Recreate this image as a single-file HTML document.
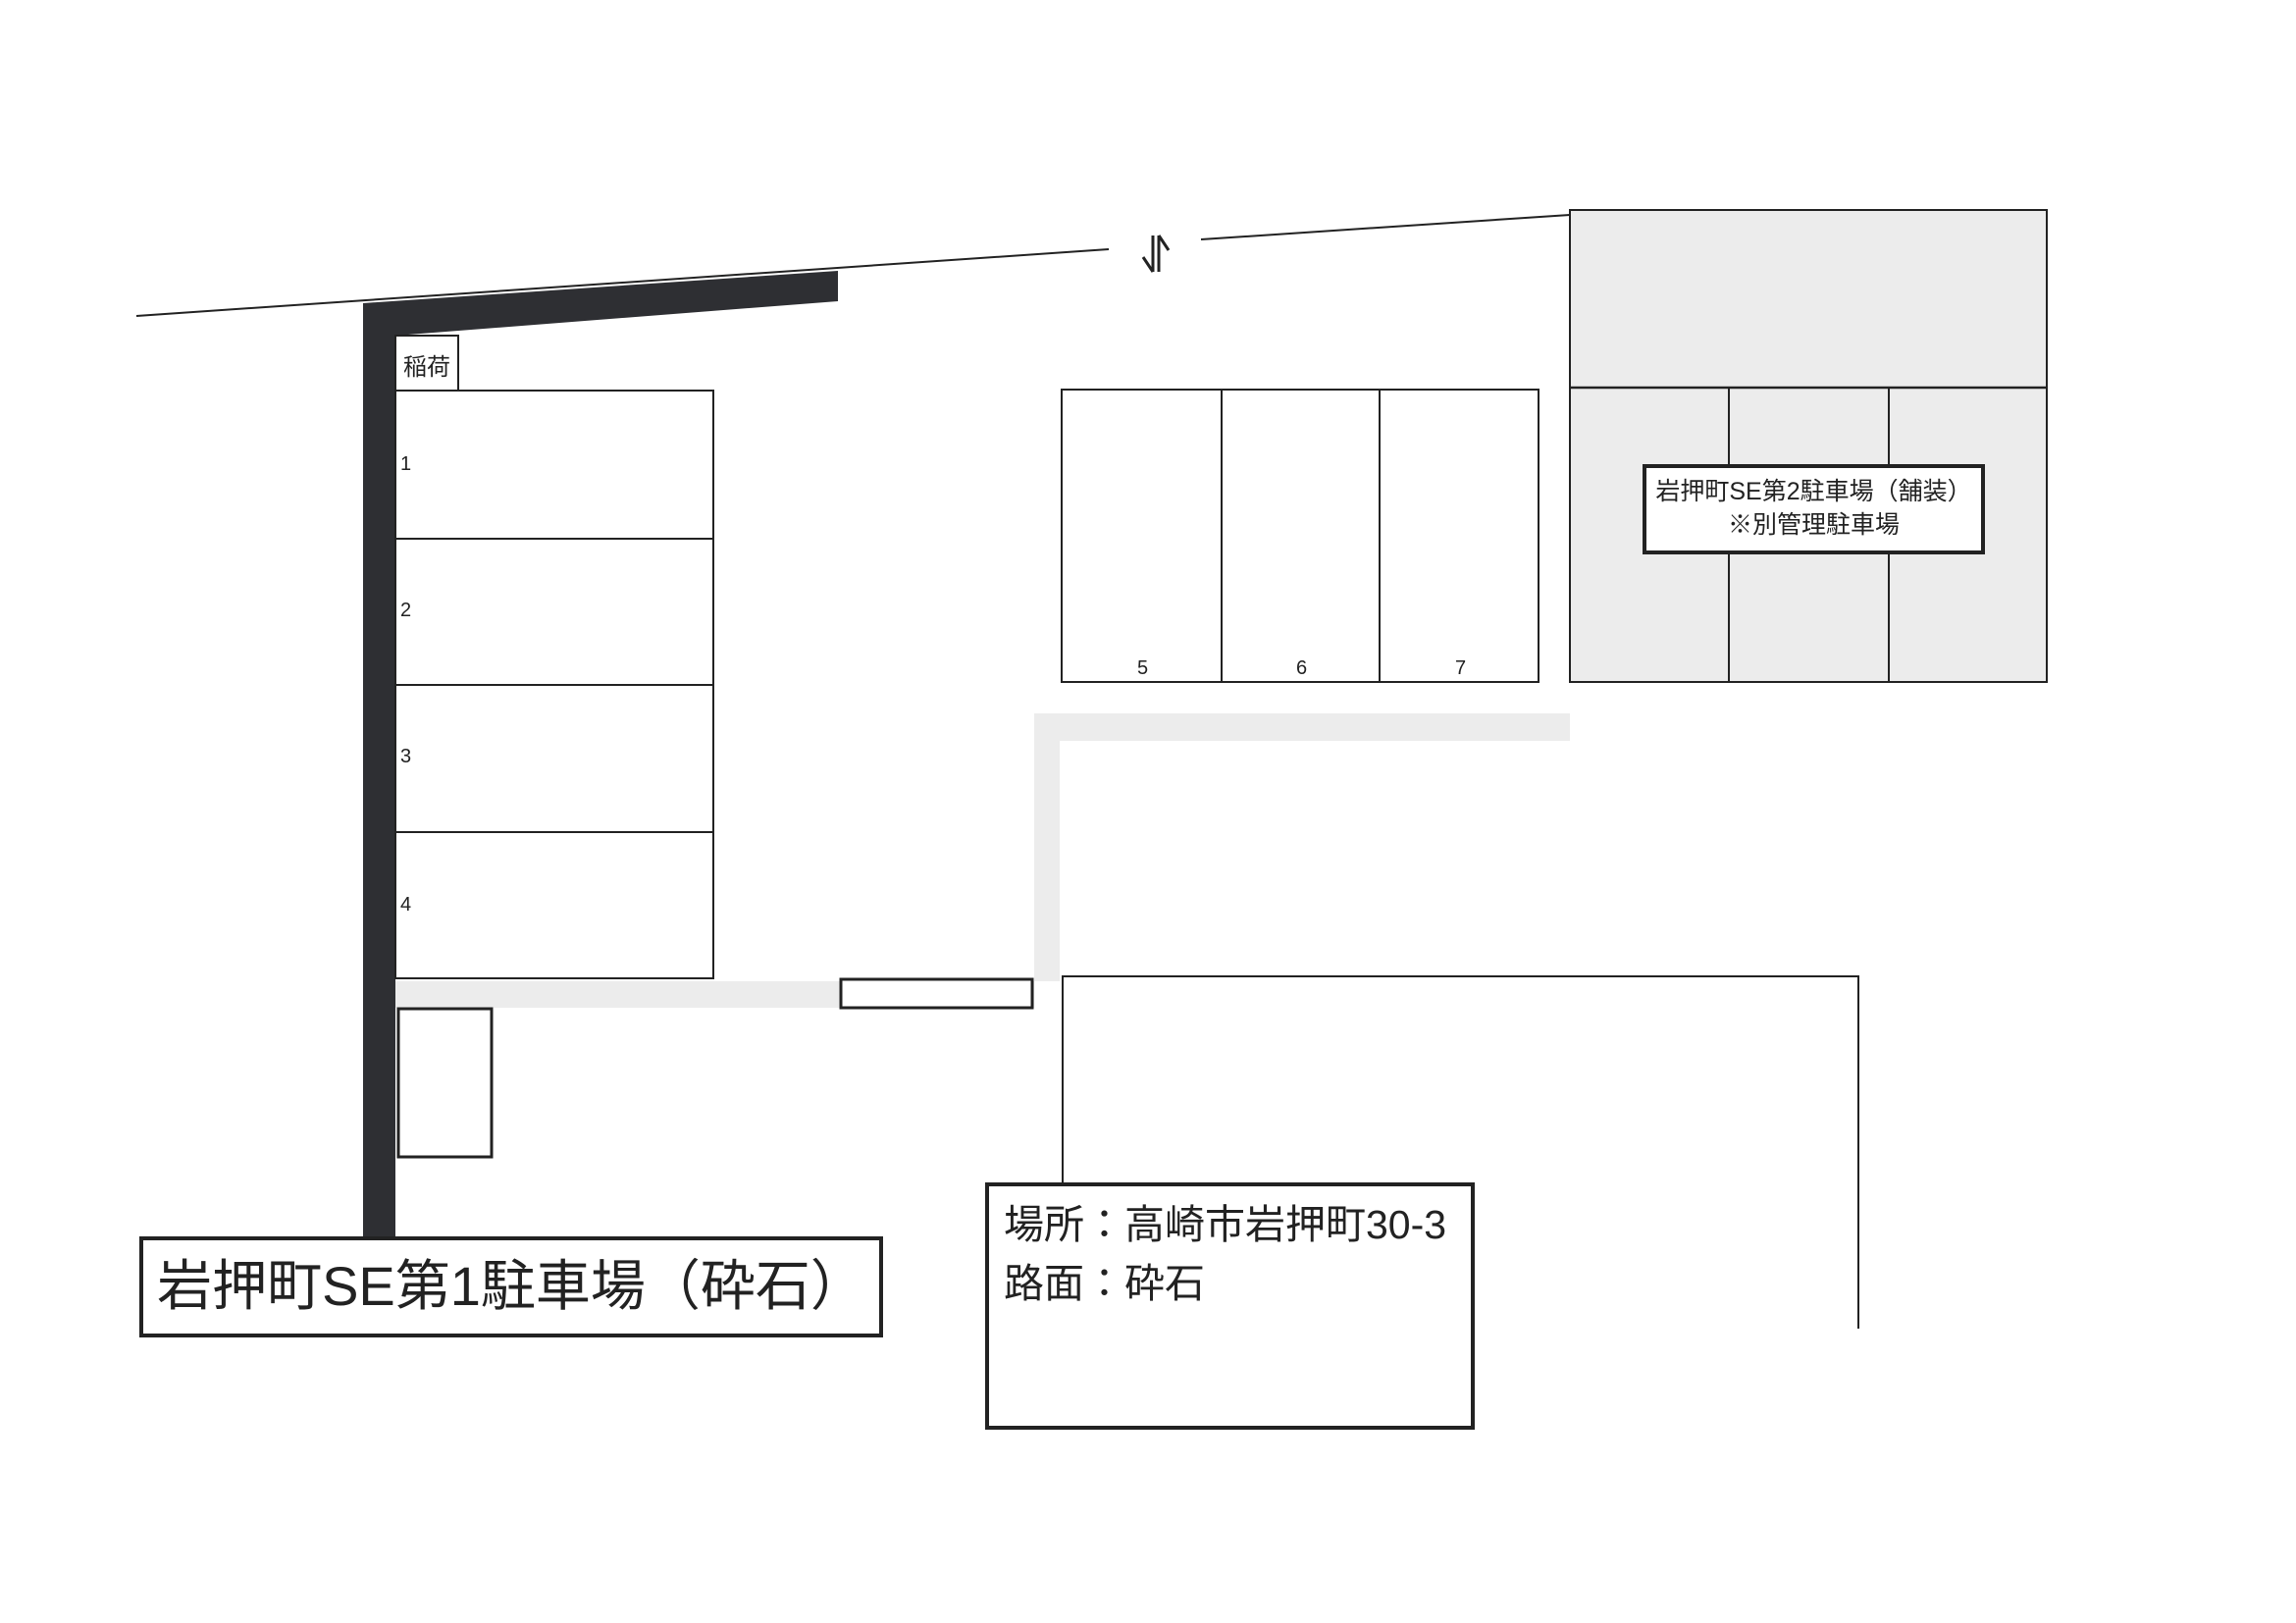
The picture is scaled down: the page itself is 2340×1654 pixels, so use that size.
<!DOCTYPE html>
<html><head><meta charset="utf-8"><style>
html,body{margin:0;padding:0;background:#fff;}
body{width:2340px;height:1654px;position:relative;overflow:hidden;font-family:"Liberation Sans","Noto Sans CJK JP",sans-serif;}
.a{position:absolute;box-sizing:border-box;}
.t{position:absolute;white-space:nowrap;color:#222;}
</style></head><body>
<svg class="a" style="left:0;top:0" width="2340" height="1654">
  <line x1="139" y1="322" x2="1130" y2="254" stroke="#222" stroke-width="2"/>
  <line x1="1224" y1="244" x2="1600" y2="219" stroke="#222" stroke-width="2"/>
  <!-- harpoons -->
  <g stroke="#222" stroke-width="3" fill="none">
    <line x1="1175" y1="240" x2="1175" y2="277"/>
    <line x1="1175" y1="277" x2="1165" y2="262"/>
    <line x1="1181" y1="240" x2="1181" y2="277"/>
    <line x1="1181" y1="240" x2="1191" y2="255"/>
  </g>
  <!-- gray paved area -->
  <rect x="1600" y="214" width="486" height="481" fill="#ececec" stroke="#222" stroke-width="2"/>
  <line x1="1600" y1="395" x2="2086" y2="395" stroke="#222" stroke-width="2.5"/>
  <line x1="1762" y1="395" x2="1762" y2="695" stroke="#222" stroke-width="2"/>
  <line x1="1925" y1="395" x2="1925" y2="695" stroke="#222" stroke-width="2"/>
  <!-- gray paths -->
  <rect x="403" y="1000" width="651" height="27" fill="#ececec"/>
  <rect x="1054" y="727" width="26" height="273" fill="#ececec"/>
  <rect x="1054" y="727" width="546" height="28" fill="#ececec"/>
  <!-- dark wall -->
  <polygon points="370,309 854,276 854,307 403,342 403,1262 370,1262" fill="#2e2f33"/>
  <!-- 稲荷 box -->
  <rect x="403" y="342" width="64" height="56" fill="#fff" stroke="#222" stroke-width="2"/>
  <!-- stalls 1-4 -->
  <rect x="403" y="398" width="324" height="599" fill="#fff" stroke="#222" stroke-width="2"/>
  <line x1="403" y1="549" x2="727" y2="549" stroke="#222" stroke-width="2"/>
  <line x1="403" y1="698" x2="727" y2="698" stroke="#222" stroke-width="2"/>
  <line x1="403" y1="848" x2="727" y2="848" stroke="#222" stroke-width="2"/>
  <!-- small boxes -->
  <rect x="857" y="998" width="195" height="29" fill="#fff" stroke="#222" stroke-width="3"/>
  <rect x="406" y="1028" width="95" height="151" fill="#fff" stroke="#222" stroke-width="3"/>
  <!-- stalls 5-7 -->
  <rect x="1082" y="397" width="486" height="298" fill="#fff" stroke="#222" stroke-width="2"/>
  <line x1="1245" y1="397" x2="1245" y2="695" stroke="#222" stroke-width="2"/>
  <line x1="1406" y1="397" x2="1406" y2="695" stroke="#222" stroke-width="2"/>
  <!-- outline lower right -->
  <polyline points="1083,1206 1083,995 1894,995 1894,1354" fill="none" stroke="#222" stroke-width="2"/>
  <!-- info box -->
  <rect x="1006" y="1207" width="495" height="248" fill="#fff" stroke="#222" stroke-width="4"/>
  <!-- title box -->
  <rect x="144" y="1262" width="754" height="99" fill="#fff" stroke="#222" stroke-width="4"/>
  <!-- label box 2 -->
  <rect x="1676" y="475" width="345" height="88" fill="#fff" stroke="#222" stroke-width="4"/>
</svg>
<div class="t" style="left:411px;top:354px;font-size:24px;">稲荷</div>
<div class="t" style="left:408px;top:462px;font-size:20px;">1</div>
<div class="t" style="left:408px;top:611px;font-size:20px;">2</div>
<div class="t" style="left:408px;top:760px;font-size:20px;">3</div>
<div class="t" style="left:408px;top:911px;font-size:20px;">4</div>
<div class="t" style="left:1159px;top:670px;font-size:20px;">5</div>
<div class="t" style="left:1321px;top:670px;font-size:20px;">6</div>
<div class="t" style="left:1483px;top:670px;font-size:20px;">7</div>
<div class="t" style="left:1676px;top:484px;width:345px;text-align:center;font-size:25px;line-height:34px;">岩押町SE第2駐車場（舗装）<br>※別管理駐車場</div>
<div class="t" style="left:1023px;top:1218px;font-size:41px;line-height:60px;">場所：高崎市岩押町30-3<br>路面：砕石</div>
<div class="t" style="left:144px;top:1276px;width:754px;text-align:center;font-size:56px;line-height:70px;">岩押町SE第1駐車場（砕石）</div>
</body></html>
